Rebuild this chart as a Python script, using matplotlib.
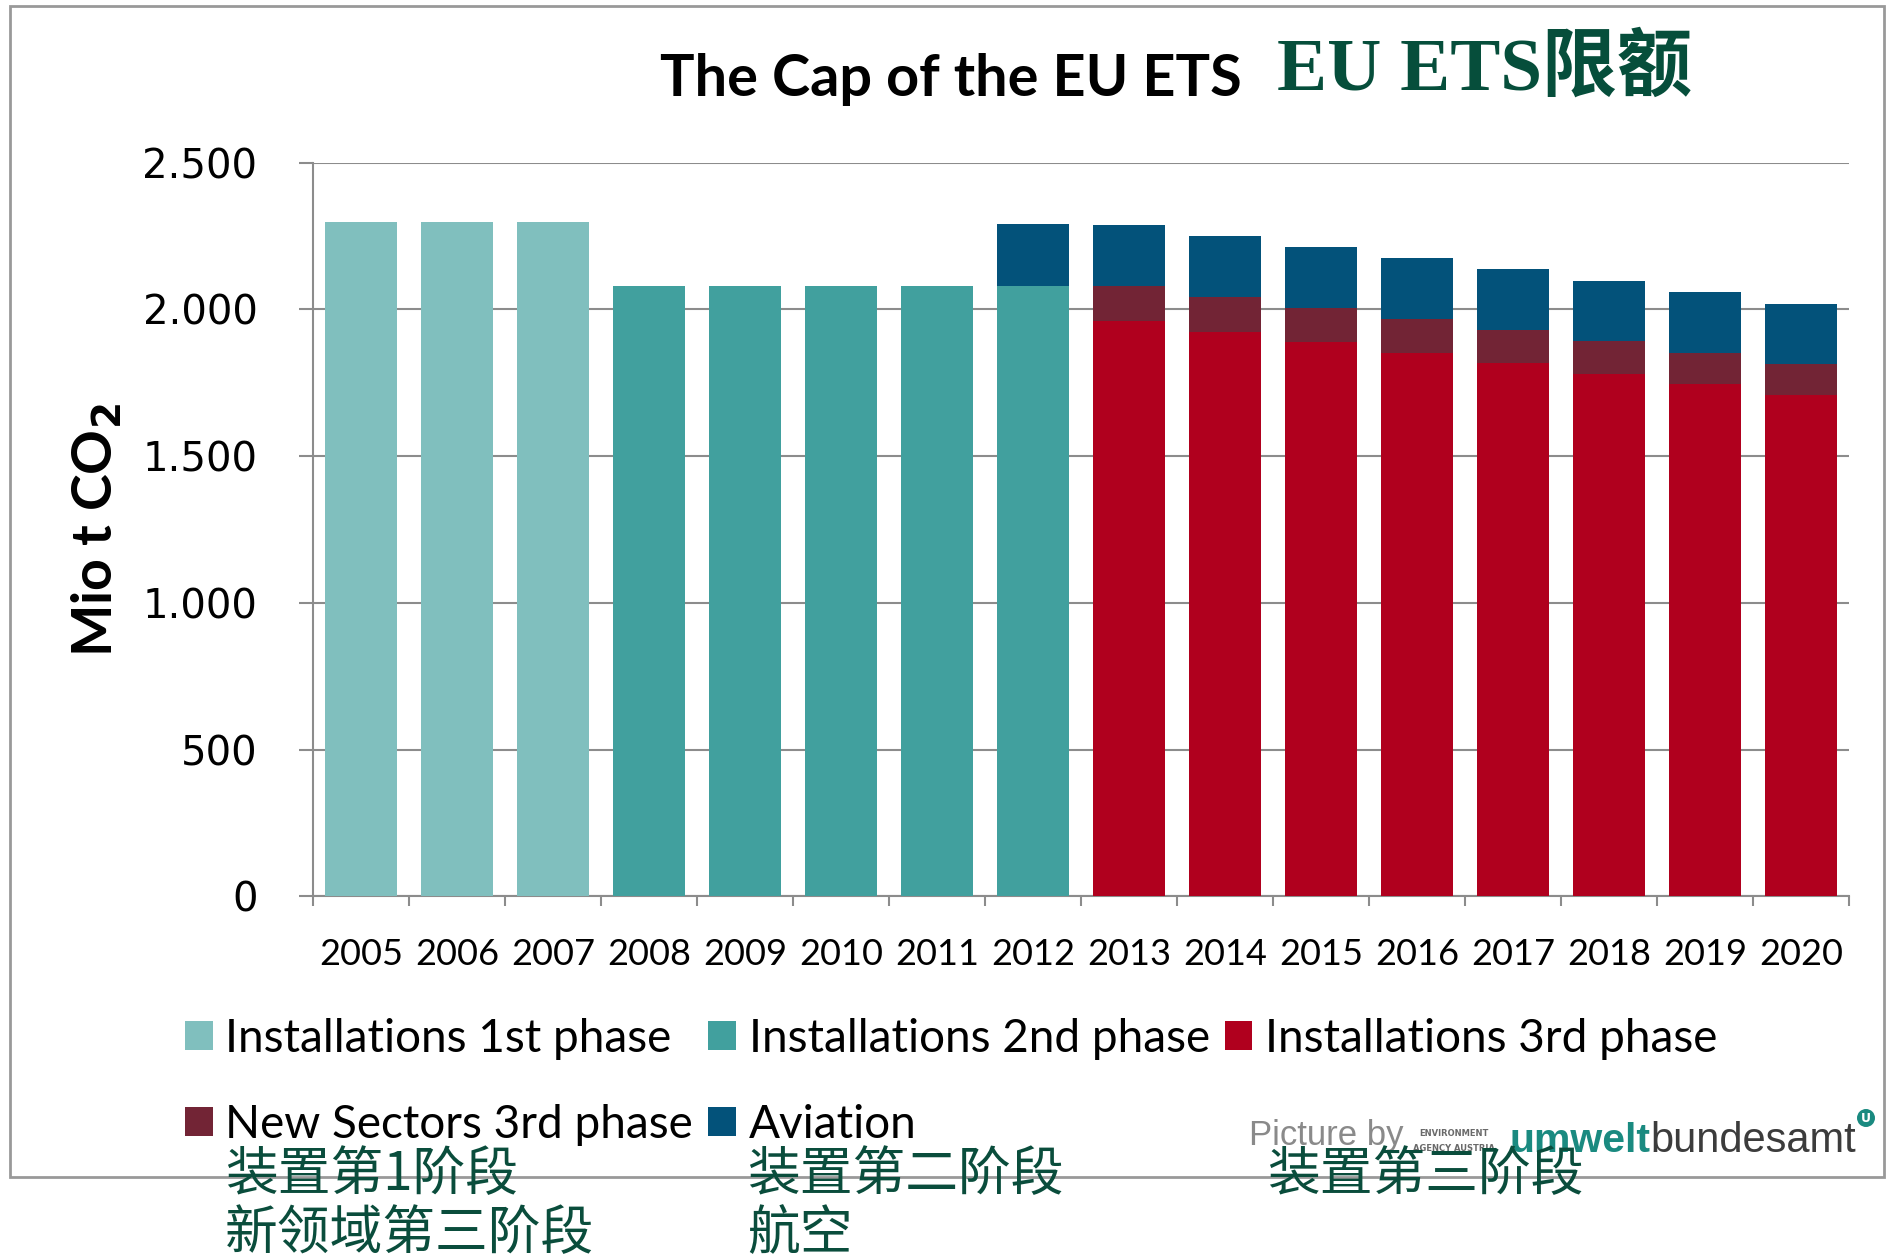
import matplotlib
matplotlib.use("Agg")
import matplotlib.pyplot as plt
from matplotlib.patches import Rectangle, Patch
import numpy as np

years = [str(y) for y in range(2005, 2021)]
inst_phase1 = [2298, 2298, 2298, 0, 0, 0, 0, 0, 0, 0, 0, 0, 0, 0, 0, 0]
inst_phase2 = [0, 0, 0, 2080, 2080, 2080, 2080, 2080, 0, 0, 0, 0, 0, 0, 0, 0]
inst_phase3 = [0, 0, 0, 0, 0, 0, 0, 0, 1959, 1923, 1888, 1852, 1816, 1780, 1745, 1707]
new_sectors = [0, 0, 0, 0, 0, 0, 0, 0, 121, 118, 115, 114, 113, 111, 105, 106]
aviation = [0, 0, 0, 0, 0, 0, 0, 211, 208, 210, 209, 208, 207, 206, 209, 206]
yticks = [0, 500, 1000, 1500, 2000, 2500]
ytick_labels = ["0", "500", "1.000", "1.500", "2.000", "2.500"]

series_names = ["Installations 1st phase", "Installations 2nd phase", "Installations 3rd phase",
                "New Sectors 3rd phase", "Aviation"]
colors = ["#80bfbe", "#41a09e", "#b0001e", "#722435", "#03527a"]

W, H = 1889, 1260
fig = plt.figure(figsize=(W / 100, H / 100), dpi=100)
ax = fig.add_axes([313 / W, 1 - 896.3 / H, (1849 - 313) / W, (896.3 - 162.6) / H])

x = np.arange(len(years))
bw = 0.76
bottom = np.zeros(len(years))
for vals, col in zip([inst_phase1, inst_phase2, inst_phase3, new_sectors, aviation], colors):
    v = np.array(vals, dtype=float)
    ax.bar(x, v, bw, bottom=bottom, color=col, edgecolor="none", zorder=3)
    bottom += v

ax.set_xlim(-0.5, len(years) - 0.5)
ax.set_ylim(0, 2500)
ax.set_yticks(yticks)
ax.set_yticklabels(ytick_labels, family="DejaVu Sans", fontsize=29)
ax.set_xticks(x)
ax.set_xticklabels(years, family="Lato", fontsize=26)
ax.set_xticks(np.arange(-0.5, len(years), 1.0), minor=True)
ax.tick_params(axis="x", which="major", length=0, pad=30)
ax.tick_params(axis="x", which="minor", length=7, width=1.5, color="#8c8c8c", direction="out")
ax.tick_params(axis="y", which="major", length=10, width=1.5, color="#8c8c8c", pad=30)
ax.grid(axis="y", color="#8c8c8c", linewidth=1.5, zorder=0)
ax.set_axisbelow(True)
for s in ["top", "right"]:
    ax.spines[s].set_visible(False)
for s in ["left", "bottom"]:
    ax.spines[s].set_color("#8c8c8c")
    ax.spines[s].set_linewidth(1.5)

# Y label
fig.text(96 / W, 1 - 530 / H, r"Mio t CO$_\mathbf{2}$", rotation=90, ha="center", va="center",
         family="Lato", fontweight="bold", fontsize=40)

# Titles
fig.text(660 / W, 1 - 96 / H, "The Cap of the EU ETS", ha="left", va="baseline",
         family="Lato", fontweight="bold", fontsize=41.5, color="black")
fig.text(1277 / W, 1 - 90 / H, "EU ETS限额", ha="left", va="baseline",
         family=["Liberation Serif", "Noto Sans CJK SC"], fontweight="bold", fontsize=54, color="#064e3b")

# Legend (order for column-wise fill)
handles = [Patch(facecolor=c, edgecolor="none") for c in colors]
order = [0, 3, 1, 4, 2]
fig.legend([handles[i] for i in order], [series_names[i] for i in order], ncol=3,
           loc="upper left", bbox_to_anchor=(185 / W, 1 - 1018 / H), frameon=False,
           prop={"family": "Lato", "size": 33}, handlelength=0.6, handleheight=0.6,
           handletextpad=0.28, columnspacing=0.33, labelspacing=0.95, borderpad=0,
           borderaxespad=0)

# Frame border
fig.patches.append(Rectangle((10 / W, 1 - 1177 / H), 1874 / W, (1177 - 6) / H, transform=fig.transFigure,
                             fill=False, edgecolor="#999999", linewidth=2, zorder=0))

# Credit
fig.text(1249 / W, 1 - 1145 / H, "Picture by", ha="left", va="baseline", family="Liberation Sans",
         fontsize=25, color="#8a8a8a")
fig.text(1419 / W, 1 - 1136 / H, "ENVIRONMENT", ha="left", va="baseline", family="DejaVu Sans",
         fontsize=6, color="#6a6a6a", fontweight="bold")
fig.text(1413 / W, 1 - 1151 / H, "AGENCY AUSTRIA", ha="left", va="baseline", family="DejaVu Sans",
         fontsize=6, color="#6a6a6a", fontweight="bold")
fig.text(1510 / W, 1 - 1152 / H, "umwelt", ha="left", va="baseline", family="Liberation Sans",
         fontsize=29.5, color="#1a8a80", fontweight="bold")
fig.text(1650 / W, 1 - 1152 / H, "bundesamt", ha="left", va="baseline", family="Liberation Sans",
         fontsize=30, color="#3c3c3c")
fig.text(1866 / W, 1 - 1118 / H, "U", ha="center", va="center", family="DejaVu Sans",
         fontsize=9, color="white", fontweight="bold",
         bbox=dict(boxstyle="circle,pad=0.2", facecolor="#1a8a80", edgecolor="none"))

# Chinese annotations
green = "#0a4d3c"
cjk = ["Noto Sans CJK SC", "DejaVu Sans"]
for txt, px, py in [("装置第1阶段", 225, 1175), ("新领域第三阶段", 225, 1234),
                    ("装置第二阶段", 747, 1175), ("航空", 747, 1234), ("装置第三阶段", 1267, 1175)]:
    fig.text(px / W, 1 - py / H, txt, ha="left", va="center", family=cjk, fontsize=38,
             color=green, zorder=10)

fig.savefig("out.png", dpi=100)
